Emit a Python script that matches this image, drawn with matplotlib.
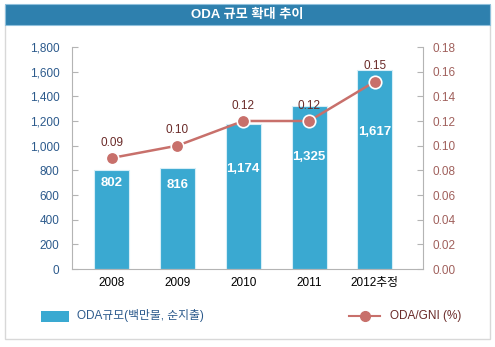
import matplotlib.pyplot as plt
from matplotlib.patches import Rectangle
from matplotlib.lines import Line2D

years = ["2008", "2009", "2010", "2011", "2012추정"]
oda_amount = [802, 816, 1174, 1325, 1617]
oda_gni = [0.09, 0.10, 0.12, 0.12, 0.152]
left_ticks = [0, 200, 400, 600, 800, 1000, 1200, 1400, 1600, 1800]
right_ticks = [0.00, 0.02, 0.04, 0.06, 0.08, 0.10, 0.12, 0.14, 0.16, 0.18]

FONT = ['Liberation Sans', 'Noto Sans CJK KR']
plt.rcParams['font.family'] = FONT

BAR = '#3aa9d1'
LINE = '#c8706b'
BLUE_TXT = '#2c5a8c'
RED_TXT = '#a0605c'
DARK_RED = '#6a2a28'
GRAY = '#b4b4b4'

fig = plt.figure(figsize=(4.95, 3.47), dpi=100)

# outer frame and title band
fig.patches.append(Rectangle((5 / 495, 1 - 339 / 347), 485 / 495, 334 / 347,
                             transform=fig.transFigure, fill=False,
                             edgecolor='#d8d8d8', linewidth=1))
fig.patches.append(Rectangle((5 / 495, 1 - 25 / 347), 485 / 495, 21 / 347,
                             transform=fig.transFigure, facecolor='#2e80ae',
                             edgecolor='#8fc0dc', linewidth=0.8))
fig.text(0.5, 1 - 15 / 347, "ODA 규모 확대 추이", color='white', fontsize=9.5,
         fontweight='bold', ha='center', va='center')

ax = fig.add_axes([72 / 495, 1 - 269 / 347, 351 / 495, 222 / 347])
x = list(range(len(years)))
ax.bar(x, oda_amount, width=0.53, color=BAR, edgecolor='#d6eef7', linewidth=0.8, zorder=2)
ax.set_xlim(-0.6, 4.73)
ax.set_ylim(0, 1800)
ax.set_yticks(left_ticks)
ax.set_yticklabels([f"{v:,}" for v in left_ticks], color=BLUE_TXT, fontsize=8.5)
ax.set_xticks(x)
ax.set_xticklabels(years, fontsize=8.5, color='black')
ax.tick_params(axis='x', length=0, pad=6)
ax.tick_params(axis='y', direction='in', length=4, color=GRAY, pad=9)
for s in ['top', 'right']:
    ax.spines[s].set_visible(False)
for s in ['left', 'bottom']:
    ax.spines[s].set_color(GRAY)

# label drop below bar top, in points
bar_label_drop = [9, 12, 32, 37, 45]
for i, v in enumerate(oda_amount):
    ax.annotate(f"{v:,}", (i, v), xytext=(0, -bar_label_drop[i]), textcoords='offset points',
                ha='center', va='center', color='white', fontsize=9.5, fontweight='bold')

ax2 = ax.twinx()
ax2.plot(x, oda_gni, color=LINE, linewidth=1.8, marker='o', markersize=9,
         markerfacecolor=LINE, markeredgecolor='white', markeredgewidth=1.2, zorder=3)
ax2.set_ylim(0, 0.18)
ax2.set_yticks(right_ticks)
ax2.set_yticklabels([f"{v:.2f}" for v in right_ticks], color=RED_TXT, fontsize=8.5)
ax2.tick_params(axis='y', direction='in', length=4, color=GRAY, pad=7)
for s in ['top', 'left', 'bottom']:
    ax2.spines[s].set_visible(False)
ax2.spines['right'].set_color(GRAY)
for i, v in enumerate(oda_gni):
    ax2.annotate(f"{v:.2f}", (i, v), xytext=(0, 11), textcoords='offset points',
                 ha='center', va='center', color=DARK_RED, fontsize=8.5)

# legend
fig.patches.append(Rectangle((41 / 495, 1 - 322 / 347), 28 / 495, 11 / 347,
                             transform=fig.transFigure, facecolor=BAR, edgecolor='none'))
fig.text(77 / 495, 1 - 316 / 347, "ODA규모(백만불, 순지출)", color=BLUE_TXT,
         fontsize=8.5, va='center', ha='left')
fig.lines.append(Line2D([349 / 495, 380 / 495], [1 - 316 / 347, 1 - 316 / 347],
                        transform=fig.transFigure, color=LINE, linewidth=1.5))
fig.lines.append(Line2D([364.5 / 495], [1 - 316 / 347], transform=fig.transFigure,
                        color=LINE, marker='o', markersize=7, linestyle='none'))
fig.text(390 / 495, 1 - 316 / 347, "ODA/GNI (%)", color=DARK_RED,
         fontsize=8.5, va='center', ha='left')

fig.savefig("out.png", dpi=100)
